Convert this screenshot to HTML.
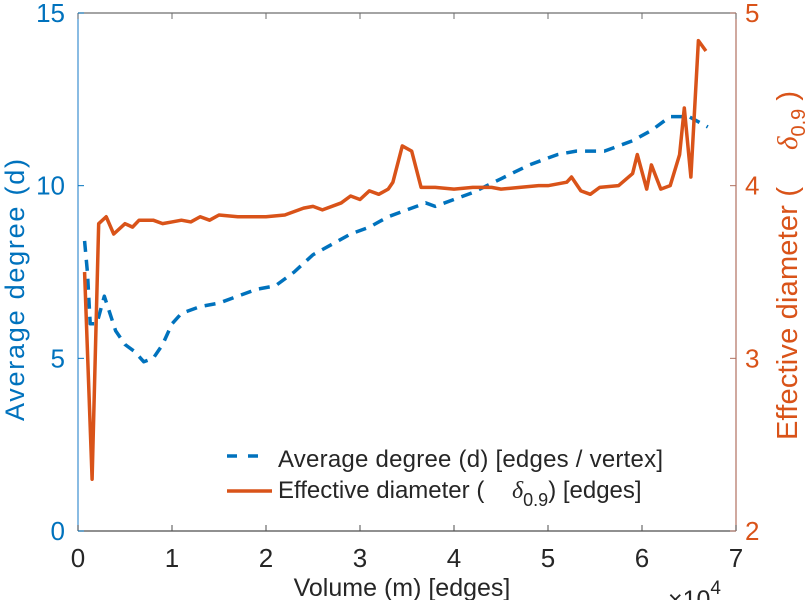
<!DOCTYPE html>
<html><head><meta charset="utf-8"><style>
body{margin:0;background:#fff;}
svg{display:block;font-family:"Liberation Sans",sans-serif;}
</style></head><body>
<svg id="chart" width="812" height="600">
<g id="axes"></g>
<g id="series"></g>
<g>
 <line x1="227" y1="456" x2="265" y2="456" stroke="#0072BD" stroke-width="3.5" stroke-dasharray="10,11"/>
 <text x="278" y="467" font-size="24" textLength="385" fill="#262626">Average degree (d) [edges / vertex]</text>
 <line x1="227" y1="491" x2="272" y2="491" stroke="#D95319" stroke-width="3.5"/>
 <text x="278" y="498" font-size="24" fill="#262626">Effective diameter (<tspan x="512" font-style="italic" font-family="Liberation Serif">δ</tspan><tspan font-size="18" dy="8">0.9</tspan><tspan dy="-8">) [edges]</tspan></text>
</g>
<text x="402" y="596" font-size="25" fill="#262626" text-anchor="middle">Volume (m) [edges]</text>
<text x="668" y="608" font-size="25" fill="#262626">×10<tspan font-size="19" dy="-14">4</tspan></text>
<text transform="translate(24,421) rotate(-90)" font-size="27" textLength="262" fill="#0072BD">Average degree (d)</text>
<g>
 <text transform="translate(797,440) rotate(-90)" font-size="29" textLength="253" fill="#D95319">Effective diameter (</text>
 <text transform="translate(797,150) rotate(-90)" font-size="29" fill="#D95319"><tspan font-style="italic" font-family="Liberation Serif">δ</tspan><tspan font-size="20" dy="8">0.9</tspan><tspan dy="-8">&#160;)</tspan></text>
</g>
</svg>
<script>
const xTicks=[0,1,2,3,4,5,6,7];
const leftTicks=[0,5,10,15];
const rightTicks=[2,3,4,5];
const degreeX=[0.07,0.1,0.13,0.2,0.28,0.4,0.5,0.6,0.7,0.8,0.9,1.0,1.1,1.3,1.5,1.7,1.9,2.1,2.3,2.5,2.7,2.9,3.1,3.3,3.5,3.7,3.8,4.0,4.2,4.5,4.8,5.1,5.3,5.6,5.9,6.1,6.3,6.5,6.7];
const degreeY=[8.4,7.5,6.0,6.0,6.8,5.8,5.4,5.2,4.9,5.0,5.4,6.0,6.3,6.5,6.6,6.8,7.0,7.1,7.5,8.0,8.3,8.6,8.8,9.1,9.3,9.5,9.4,9.6,9.8,10.2,10.6,10.9,11.0,11.0,11.3,11.6,12.0,12.0,11.7];
const diamX=[0.07,0.15,0.22,0.3,0.38,0.5,0.58,0.65,0.8,0.9,1.0,1.1,1.2,1.3,1.4,1.5,1.7,1.9,2.0,2.2,2.4,2.5,2.6,2.8,2.9,3.0,3.1,3.2,3.3,3.35,3.45,3.55,3.65,3.8,4.0,4.2,4.4,4.5,4.7,4.9,5.0,5.2,5.25,5.35,5.45,5.55,5.75,5.9,5.95,6.05,6.1,6.2,6.3,6.4,6.45,6.52,6.6,6.68];
const diamY=[3.5,2.3,3.78,3.82,3.72,3.78,3.76,3.8,3.8,3.78,3.79,3.8,3.79,3.82,3.8,3.83,3.82,3.82,3.82,3.83,3.87,3.88,3.86,3.9,3.94,3.92,3.97,3.95,3.98,4.02,4.23,4.2,3.99,3.99,3.98,3.99,3.99,3.98,3.99,4.0,4.0,4.02,4.05,3.97,3.95,3.99,4.0,4.07,4.18,3.98,4.12,3.98,4.0,4.18,4.45,4.05,4.84,4.78];
const X0=78,X1=736,Y0=531,Y1=13;
const sx=v=>X0+(X1-X0)*v/7;
const syL=v=>Y0-(Y0-Y1)*v/15;
const syR=v=>Y0-(Y0-Y1)*(v-2)/3;
const NS='http://www.w3.org/2000/svg';
const ax=document.getElementById('axes'),se=document.getElementById('series');
function mk(tag,attrs,parent,txt){const e=document.createElementNS(NS,tag);for(const k in attrs)e.setAttribute(k,attrs[k]);if(txt!==undefined)e.textContent=txt;parent.appendChild(e);return e;}
let e;
e=mk('line',{x1:X0,y1:Y0,x2:X1,y2:Y0,stroke:'#4d4d4d','stroke-width':1.2},ax);


e=mk('line',{x1:X0,y1:Y1,x2:X1,y2:Y1,stroke:'#6d6d6d','stroke-width':1.2},ax);


e=mk('line',{x1:X0,y1:Y0,x2:X0,y2:Y1,stroke:'#3d8fd0','stroke-width':1.2},ax);


e=mk('line',{x1:X1,y1:Y0,x2:X1,y2:Y1,stroke:'#b07060','stroke-width':1.2},ax);


xTicks.forEach(t=>{
 mk('line',{x1:sx(t),y1:Y0,x2:sx(t),y2:Y0-6,stroke:'#4d4d4d'},ax);
 mk('line',{x1:sx(t),y1:Y1,x2:sx(t),y2:Y1+6,stroke:'#6d6d6d'},ax);
 e=mk('text',{x:sx(t),y:Y0+36,'font-size':26,fill:'#262626','text-anchor':'middle'},ax,String(t));
 
 
});
leftTicks.forEach(t=>{
 mk('line',{x1:X0,y1:syL(t),x2:X0+6,y2:syL(t),stroke:'#0072BD'},ax);
 e=mk('text',{x:X0-13,y:syL(t)+9,'font-size':26,fill:'#0072BD','text-anchor':'end'},ax,String(t));
 
 
});
rightTicks.forEach(t=>{
 mk('line',{x1:X1,y1:syR(t),x2:X1-6,y2:syR(t),stroke:'#b07060'},ax);
 e=mk('text',{x:X1+9,y:syR(t)+9,'font-size':26,fill:'#D95319'},ax,String(t));
 
 
});
e=mk('polyline',{points:degreeX.map((x,i)=>sx(x)+','+syL(degreeY[i])).join(' '),fill:'none',stroke:'#0072BD','stroke-width':3.5,'stroke-dasharray':'11,8','stroke-linejoin':'round'},se);


e=mk('polyline',{points:diamX.map((x,i)=>sx(x)+','+syR(diamY[i])).join(' '),fill:'none',stroke:'#D95319','stroke-width':3.5,'stroke-linejoin':'round'},se);


</script>
</body></html>
